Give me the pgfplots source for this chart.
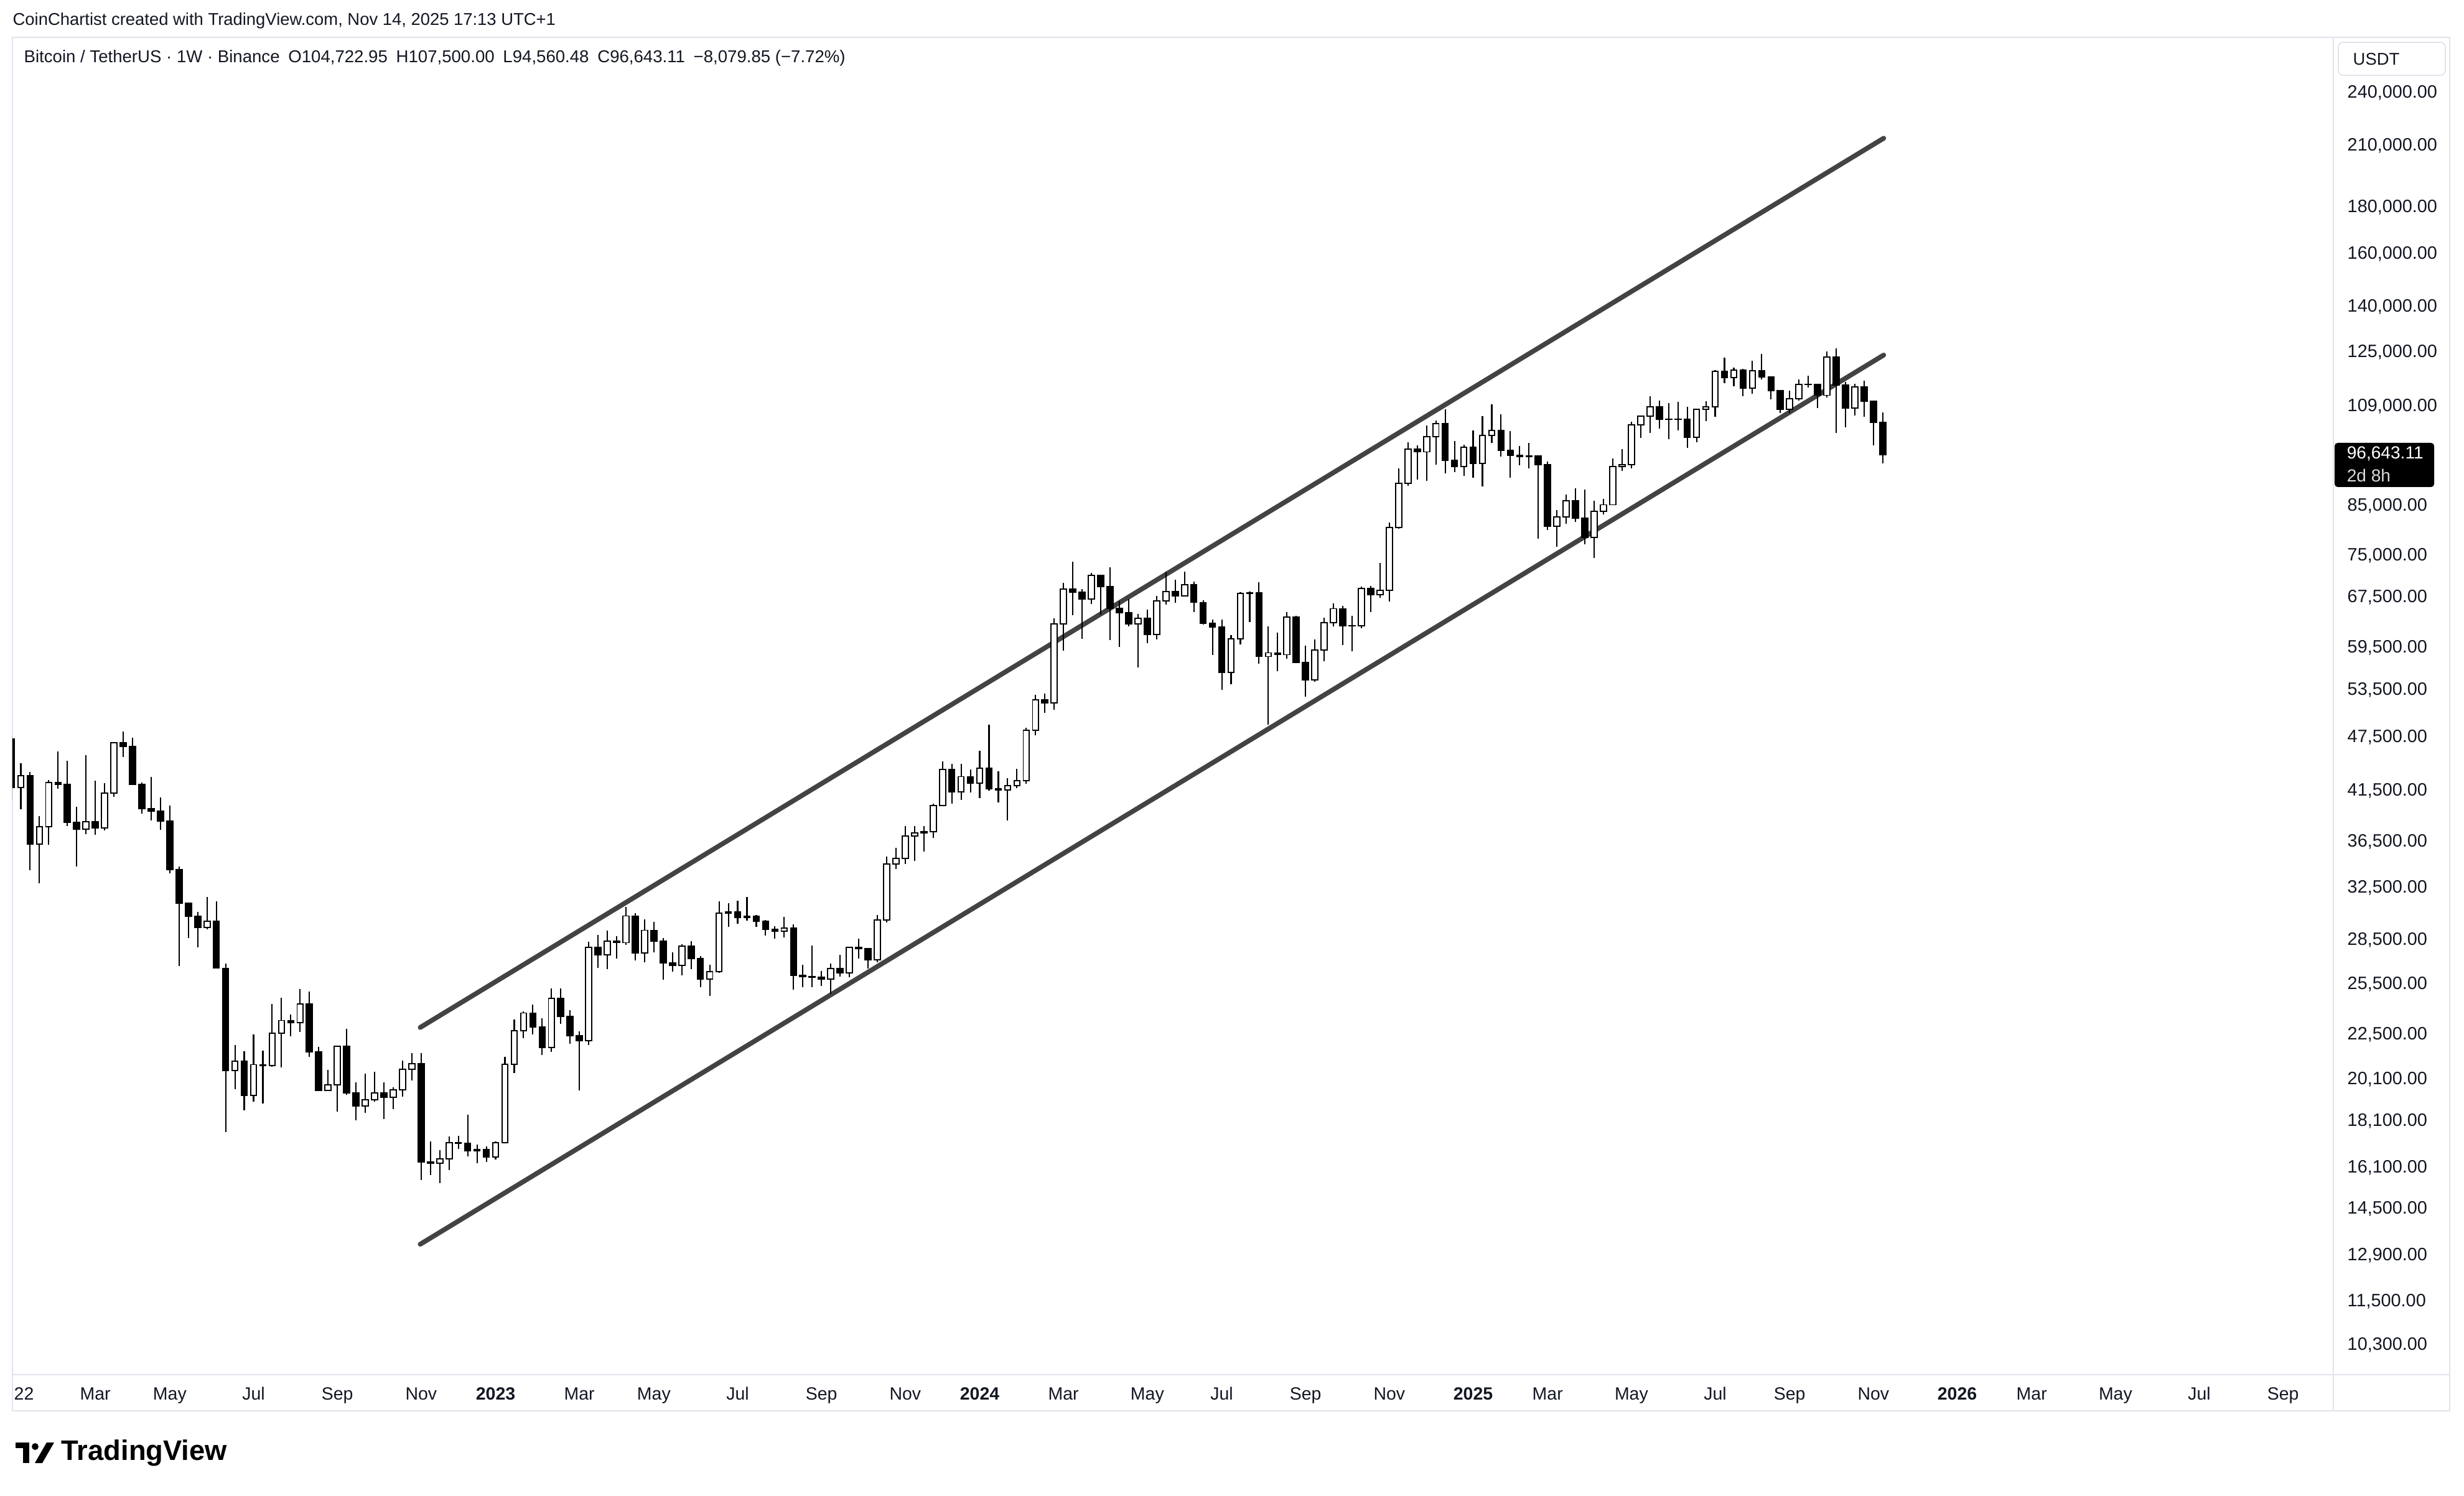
\documentclass[border=0pt]{standalone}
\usepackage{pgfplots}
\pgfplotsset{compat=1.18}
\usepackage{pgfplotstable}
\usepackage{fontspec}
\setmainfont{Liberation Sans}
\definecolor{tvtext}{HTML}{131722}
\definecolor{tvframe}{HTML}{E0E3EB}
\definecolor{chan}{HTML}{434343}

% weekly candles, i = weeks since Mon 3 Jan 2022
\pgfplotstableread{
i o h l c
0 47300 47570 40600 41860
1 41860 44500 39650 43080
2 43080 43500 34000 36280
3 36280 38920 32900 37900
4 37900 42650 36250 42400
5 42400 45850 41700 42200
6 42200 44750 38000 38350
7 38350 39850 34300 37700
8 37700 45400 37200 38420
9 38420 42600 37150 37780
10 37780 42300 37550 41260
11 41260 46900 40900 46830
12 46830 48190 45200 46400
13 46400 47450 42100 42150
14 42150 42400 39200 39700
15 39700 42950 38500 39450
16 39450 40800 37600 38470
17 38470 40000 33700 34060
18 34060 34300 26700 31300
19 31300 31330 28650 30290
20 30290 30600 28000 29450
21 29450 31800 29300 29920
22 29920 31450 26560 26570
23 26570 26900 17600 20550
24 20550 21900 19600 21030
25 21030 21550 18600 19300
26 19300 22500 19000 20850
27 20850 21600 18900 20800
28 20800 24280 20750 22580
29 22580 24670 20700 23300
30 23300 23650 22400 23180
31 23180 25210 22650 24300
32 24300 25050 21250 21520
33 21520 21800 19520 19550
34 19550 20580 19520 19830
35 19830 21860 18540 21830
36 21830 22800 19320 19420
37 19420 19960 18120 18800
38 18800 20380 18460 19100
39 19100 20470 19000 19420
40 19420 19950 18190 19200
41 19200 19700 18650 19570
42 19570 21080 19250 20620
43 20620 21470 20050 20900
44 20900 21470 15590 16330
45 16330 17190 15800 16280
46 16280 16810 15480 16460
47 16460 17400 16000 17130
48 17130 17430 16880 17100
49 17100 18390 16550 16780
50 16780 17060 16270 16840
51 16840 16970 16330 16540
52 16540 17180 16420 17130
53 17130 21260 17100 20880
54 20880 23370 20400 22710
55 22710 23820 22300 23740
56 23740 24250 22500 22930
57 22930 23440 21350 21780
58 21780 25250 21530 24630
59 24630 25240 23100 23550
60 23550 23900 21970 22430
61 22430 22660 19550 22150
62 22150 28400 21900 28000
63 28000 28870 26600 27480
64 27480 29200 26500 28450
65 28450 28800 27200 28330
66 28330 31000 28170 30300
67 30300 30500 27100 27600
68 27600 30030 26970 29230
69 29230 29850 27650 28430
70 28430 28650 25810 26920
71 26920 27650 26350 26750
72 26750 28200 26080 28070
73 28070 28450 26500 27230
74 27230 27400 25350 25840
75 25840 26800 24800 26340
76 26340 31430 26250 30530
77 30530 31280 29500 30590
78 30590 31500 29700 30170
79 30170 31800 29950 30290
80 30290 30350 29500 29900
81 29900 30000 28860 29280
82 29280 29530 28600 29180
83 29180 30250 28700 29400
84 29400 29680 25170 26100
85 26100 26800 25350 26000
86 26000 28150 25330 25970
87 25970 26400 25400 25840
88 25840 26890 24900 26530
89 26530 27480 26000 26250
90 26250 28050 25990 27990
91 27990 28600 27200 27920
92 27920 27950 26550 27150
93 27150 30380 26970 29990
94 29990 35200 29800 34530
95 34530 35980 34100 35010
96 35010 38000 34500 37060
97 37060 38000 34800 37360
98 37360 38000 35630 37450
99 37450 40200 36850 39970
100 39970 44700 39950 43780
101 43780 44400 40200 41370
102 41370 44400 40550 43010
103 43010 43800 41300 42280
104 42280 45880 40750 43930
105 43930 48970 41500 41730
106 41730 43580 40280 41580
107 41580 42840 38550 42030
108 42030 43880 41800 42580
109 42580 48590 42250 48300
110 48300 52820 47700 52140
111 52140 52990 50520 51730
112 51730 64000 50900 63110
113 63110 70000 59000 68960
114 68960 73780 64550 68390
115 68390 68920 60770 67210
116 67210 71770 66380 71280
117 71280 71380 64600 69360
118 69360 72800 60660 65660
119 65660 66870 59600 64940
120 64940 67230 62790 63120
121 63120 64730 56550 64010
122 64010 65500 60190 61480
123 61480 67700 60750 66940
124 66940 71980 66300 68520
125 68520 70600 66600 67760
126 67760 71950 67600 69650
127 69650 70200 65080 66640
128 66640 66980 63000 63210
129 63210 63800 58400 62680
130 62680 63800 53500 55860
131 55860 61400 54260 60800
132 60800 68370 59950 68160
133 68160 68500 63420 68250
134 68250 70080 57120 58160
135 58160 62750 49000 58710
136 58710 61800 56100 58430
137 58430 65000 57800 64220
138 64220 64480 57200 57300
139 57300 59800 52550 54870
140 54870 60670 54580 59130
141 59130 64130 57490 63350
142 63350 66500 62700 65600
143 65600 66100 59830 62820
144 62820 64480 58900 62870
145 62870 69400 62450 69030
146 69030 69500 65070 67930
147 67930 73620 67460 68750
148 68750 81500 66840 80400
149 80400 93265 80200 89850
150 89850 99590 89380 97900
151 97900 98870 90800 97280
152 97280 104000 90500 101100
153 101100 105250 94150 104460
154 104460 108350 92230 95190
155 95190 99960 92500 93720
156 93720 98980 91530 98360
157 98360 102740 91200 94540
158 94540 106420 89260 101330
159 101330 109590 99500 102620
160 102620 106900 96200 97700
161 97700 102500 91230 96460
162 96460 98800 94100 96120
163 96120 99500 93400 96260
164 96260 96500 78250 94270
165 94270 95000 80000 80730
166 80730 84000 76600 82580
167 82580 87450 81170 86080
168 86080 88770 81600 82390
169 82390 88500 77150 78430
170 78430 86100 74500 83760
171 83760 86500 83100 85180
172 85180 95760 85140 93750
173 93750 97900 92800 94280
174 94280 104970 93380 104120
175 104120 106660 100700 106450
176 106450 111980 102100 109000
177 109000 110720 103100 105640
178 105640 110000 100400 105620
179 105620 110400 102700 105580
180 105580 108950 98200 100960
181 100960 108530 99600 108350
182 108350 110530 105100 108980
183 108980 119490 106300 119090
184 119090 123200 115700 117300
185 117300 120250 114700 119450
186 119450 119800 111900 114210
187 114210 122300 112650 119300
188 119300 124470 116800 117400
189 117400 117600 111000 113490
190 113490 113600 107250 108250
191 108250 113400 107250 111150
192 111150 116800 110600 115270
193 115270 117900 114380 115310
194 115310 115400 108650 112160
195 112160 125200 111600 123500
196 123500 126200 102000 115170
197 115170 116000 103530 108640
198 108640 115500 106600 114570
199 114570 116400 106300 110550
200 110550 110750 98950 104720
201 104722.95 107500 94560.48 96643.11
}\candles

\pgfplotstableread{
i p
43.9 22891
201.1 214040
}\upperline
\pgfplotstableread{
i p
43.9 13274
201.1 124095
}\lowerline

\begin{document}
\begin{tikzpicture}[x=1cm,y=1cm]
\fill[white] (0,0) rectangle (39.6,24.04);
\useasboundingbox (0,0) rectangle (39.6,24.04);
% frame of the chart pane
\draw[tvframe, line width=0.7pt] (0.20,1.36) rectangle (39.37,23.44);
\draw[tvframe, line width=0.7pt] (37.50,1.36) -- (37.50,23.44);
\draw[tvframe, line width=0.7pt] (0.20,1.94) -- (39.37,1.94);

\begin{axis}[
  at={(0.20cm,1.94cm)}, anchor=south west,
  width=37.30cm, height=21.50cm, scale only axis,
  xmin=0.1, xmax=249.4, ymin=9.1656, ymax=12.5276,
  axis line style={draw=none},
  major tick length=0pt, tick style={draw=none},
  xtick={9,17,26,35,44,52,61,69,78,87,96,104,113,122,130,139,148,157,165,174,183,191,200,209,217,226,235,244},
  xticklabels={Mar,May,Jul,Sep,Nov,\textbf{2023},Mar,May,Jul,Sep,Nov,\textbf{2024},Mar,May,Jul,Sep,Nov,\textbf{2025},Mar,May,Jul,Sep,Nov,\textbf{2026},Mar,May,Jul,Sep},
  xticklabel style={anchor=base, yshift=-0.40cm, inner sep=0pt, font=\fontsize{8.1}{9}\selectfont, text=tvtext},
  yticklabel pos=right,
  ytick={9.23990,9.35010,9.46498,9.58190,9.68657,9.80367,9.90848,10.02127,10.14643,10.25766,10.38900,10.50507,10.63345,10.76849,10.88744,10.99373,11.11988,11.22524,11.35041,11.59910,11.73607,11.84940,11.98293,12.10071,12.25486,12.38839},
  yticklabels={{10,300.00},{11,500.00},{12,900.00},{14,500.00},{16,100.00},{18,100.00},{20,100.00},{22,500.00},{25,500.00},{28,500.00},{32,500.00},{36,500.00},{41,500.00},{47,500.00},{53,500.00},{59,500.00},{67,500.00},{75,000.00},{85,000.00},{109,000.00},{125,000.00},{140,000.00},{160,000.00},{180,000.00},{210,000.00},{240,000.00}},
  yticklabel style={anchor=west, xshift=0.22cm, inner sep=0pt, font=\fontsize{8.2}{9}\selectfont, text=tvtext},
]
% channel
\addplot[chan, line width=2.2pt, line cap=round] table[x=i, y expr={ln(\thisrow{p})}] {\upperline};
\addplot[chan, line width=2.2pt, line cap=round] table[x=i, y expr={ln(\thisrow{p})}] {\lowerline};
% wicks
\addplot[draw=none, mark=none,
  error bars/.cd, y dir=plus, y explicit, error mark=none,
  error bar style={draw=black, line width=0.6pt, line cap=butt}]
  table[x=i, y expr={ln(\thisrow{l})}, y error expr={ln(\thisrow{h})-ln(\thisrow{l})}] {\candles};
% bodies (black)
\addplot[draw=none, mark=none,
  error bars/.cd, y dir=plus, y explicit, error mark=none,
  error bar style={draw=black, line width=3.3pt, line cap=butt}]
  table[x=i, y expr={min(ln(\thisrow{o}),ln(\thisrow{c}))-0.0015}, y error expr={abs(ln(\thisrow{c})-ln(\thisrow{o}))+0.003}] {\candles};
% hollow inside of rising candles
\addplot[draw=none, mark=none,
  restrict expr to domain={ln(\thisrow{c})-ln(\thisrow{o})}{0.004:10},
  error bars/.cd, y dir=plus, y explicit, error mark=none,
  error bar style={draw=white, line width=2.2pt, line cap=butt}]
  table[x=i, y expr={ln(\thisrow{o})+0.0015}, y error expr={ln(\thisrow{c})-ln(\thisrow{o})-0.003}] {\candles};
\end{axis}

% header texts
\node[anchor=west, inner sep=0pt, font=\fontsize{7.8}{9}\selectfont, text=tvtext] at (0.20,23.71)
  {CoinChartist created with TradingView.com, Nov 14, 2025 17:13 UTC+1};
\node[anchor=west, inner sep=0pt, font=\fontsize{7.85}{9}\selectfont, text=tvtext] at (0.38,23.11)
  {Bitcoin / TetherUS · 1W · Binance\enspace O104,722.95\enspace H107,500.00\enspace L94,560.48\enspace C96,643.11\enspace −8,079.85 (−7.72\%)};
% first, clipped year label
\node[anchor=base west, inner sep=0pt, font=\fontsize{8.1}{9}\selectfont, text=tvtext] at (0.22,1.54) {22};
% price scale header
\draw[tvframe, line width=0.5pt, rounded corners=0.08cm] (37.58,22.83) rectangle (39.30,23.36);
\node[anchor=west, inner sep=0pt, font=\fontsize{7.8}{9}\selectfont, text=tvtext] at (37.81,23.09) {USDT};
% last price label
\fill[black, rounded corners=0.05cm] (37.52,16.21) rectangle (39.12,16.92);
\node[anchor=west, inner sep=0pt, font=\fontsize{8.0}{9}\selectfont, text=white] at (37.71,16.75) {96,643.11};
\node[anchor=west, inner sep=0pt, font=\fontsize{8.0}{9}\selectfont, text=white!85!black] at (37.71,16.40) {2d 8h};
% TradingView logo
\fill[black] (0.25,0.76) rectangle (0.47,0.85);
\fill[black] (0.37,0.52) rectangle (0.47,0.85);
\fill[black] (0.565,0.785) circle (0.055);
\fill[black] (0.56,0.52) -- (0.68,0.52) -- (0.87,0.85) -- (0.75,0.85) -- cycle;
\node[anchor=west, inner sep=0pt, font=\bfseries\fontsize{12.9}{14}\selectfont, text=black] at (0.98,0.68) {TradingView};
\end{tikzpicture}
\end{document}
